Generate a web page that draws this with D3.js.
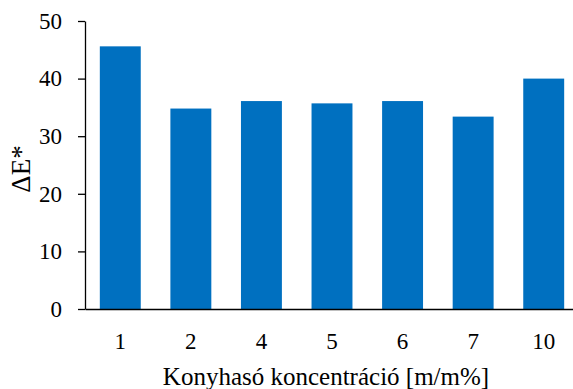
<!DOCTYPE html>
<html><head><meta charset="utf-8">
<script src="https://cdn.jsdelivr.net/npm/d3@7"></script>
<style>body{margin:0;background:#fff}svg{display:block}svg text{font-family:"Liberation Serif","Times New Roman",Times,serif;}</style>
</head><body>
<svg id="c" width="573" height="389"></svg>
<script>
const categories = ["1","2","4","5","6","7","10"];
const values = [45.6, 34.8, 36.1, 35.7, 36.1, 33.4, 40.0];
const yTicks = [0,10,20,30,40,50];
const xTitle = "Konyhasó koncentráció [m/m%]";
const yTitle = "ΔE*";

(function(){
const svg = d3.select("#c");
const mLeft = 85, mRight = 579, mTop = 21, mBottom = 309;
const x = d3.scaleBand().domain(categories).range([mLeft, mRight]).paddingInner(0.42).paddingOuter(0.21);
const y = d3.scaleLinear().domain([0,50]).range([mBottom, mTop]);

svg.selectAll("rect.bar").data(values).enter().append("rect")
  .attr("class","bar")
  .attr("x",(d,i)=>x(categories[i]))
  .attr("width",x.bandwidth())
  .attr("y",d=>y(d))
  .attr("height",d=>y(0)-y(d))
  .attr("fill","#0070C0");

const ya = svg.append("g").attr("transform",`translate(${mLeft},0)`)
  .call(d3.axisLeft(y).tickValues(yTicks).tickSize(7).tickPadding(16).tickSizeOuter(0));
ya.attr("font-family",null);
ya.select(".domain").attr("stroke","#000").attr("stroke-width",1.3);
ya.selectAll(".tick line").attr("stroke","#000").attr("stroke-width",1.3);
ya.selectAll("text").attr("font-size",23).attr("fill","#000");

const xa = svg.append("g").attr("transform",`translate(0,${mBottom})`)
  .call(d3.axisBottom(x).tickSize(0).tickPadding(24).tickSizeOuter(0));
xa.attr("font-family",null);
xa.select(".domain").attr("stroke","#000").attr("stroke-width",1.3);
xa.selectAll("text").attr("font-size",23).attr("fill","#000");

svg.append("text").attr("x",326).attr("y",385).attr("text-anchor","middle")
  .attr("font-size",25).attr("fill","#000").text(xTitle);
svg.append("text").attr("transform","translate(30,169) rotate(-90)").attr("text-anchor","middle")
  .attr("font-size",27).attr("fill","#000").text(yTitle);
})();
</script>
</body></html>
